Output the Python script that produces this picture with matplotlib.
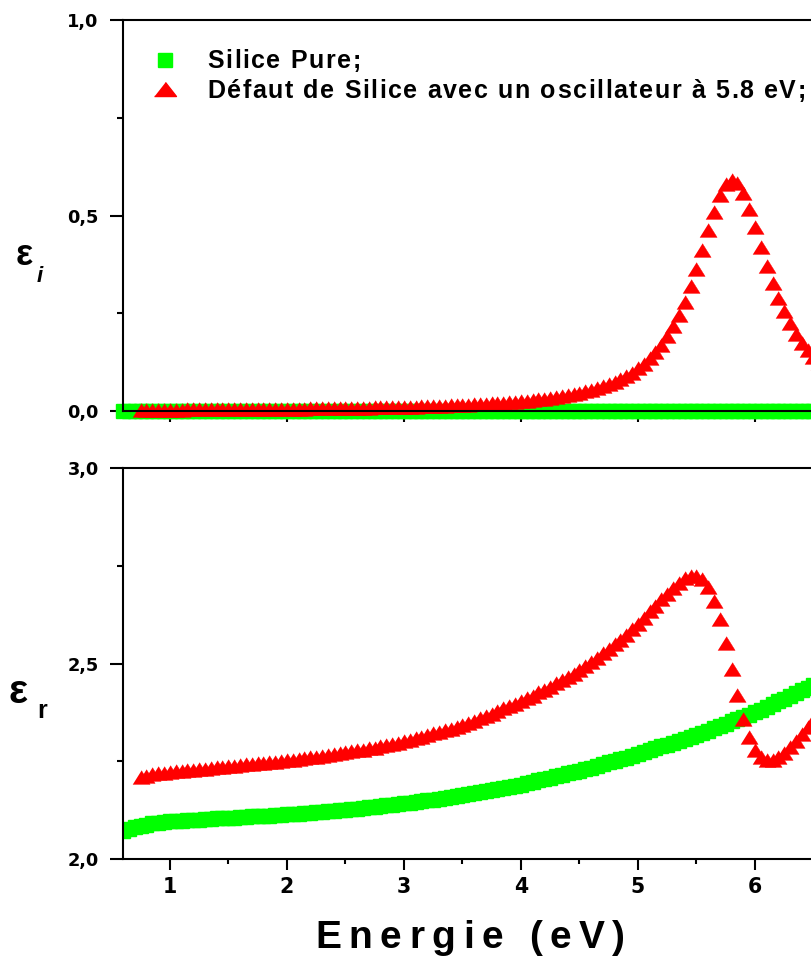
import matplotlib

matplotlib.use("Agg")
import matplotlib.pyplot as plt
import numpy as np
from matplotlib.font_manager import FontProperties, findfont
from matplotlib.ft2font import FT2Font
from matplotlib.lines import Line2D
from matplotlib.ticker import FixedLocator, NullFormatter

W, H, DPI = 812, 967, 100

# photon energy grids (eV), 0.05 eV sampling
energy_pure = np.round(np.arange(0.60, 6.551, 0.05), 2)
energy_defect = np.round(np.arange(0.75, 6.551, 0.05), 2)

# imaginary part, pure silica (flat on zero)
eps_i_pure = [0.0] * 120

# imaginary part, silica with the 5.8 eV defect oscillator
eps_i_defect = [
    0.0033, 0.0034, 0.0035, 0.0035, 0.0036, 0.0037, 0.0038, 0.0038, 0.0039, 0.0040,
    0.0041, 0.0042, 0.0043, 0.0044, 0.0045, 0.0046, 0.0047, 0.0048, 0.0049, 0.0050,
    0.0051, 0.0053, 0.0054, 0.0056, 0.0057, 0.0058, 0.0060, 0.0062, 0.0063, 0.0065,
    0.0067, 0.0069, 0.0071, 0.0073, 0.0075, 0.0077, 0.0080, 0.0082, 0.0085, 0.0087,
    0.0090, 0.0093, 0.0096, 0.0100, 0.0103, 0.0107, 0.0111, 0.0115, 0.0119, 0.0123,
    0.0128, 0.0133, 0.0139, 0.0144, 0.0150, 0.0157, 0.0164, 0.0171, 0.0179, 0.0187,
    0.0196, 0.0206, 0.0216, 0.0227, 0.0239, 0.0252, 0.0266, 0.0281, 0.0297, 0.0315,
    0.0334, 0.0356, 0.0379, 0.0405, 0.0433, 0.0465, 0.0499, 0.0538, 0.0581, 0.0629,
    0.0683, 0.0745, 0.0814, 0.0893, 0.0983, 0.1087, 0.1205, 0.1343, 0.1503, 0.169,
    0.1906, 0.2162, 0.2455, 0.280, 0.319, 0.364, 0.412, 0.463, 0.510, 0.553,
    0.580, 0.590, 0.582, 0.558, 0.517, 0.470, 0.420, 0.372, 0.328, 0.290,
    0.255, 0.225, 0.198, 0.175, 0.155, 0.138, 0.124,
]

# real part, pure silica
eps_r_pure = [
    2.072, 2.077, 2.081, 2.085, 2.088, 2.091, 2.093, 2.095, 2.096, 2.097,
    2.098, 2.099, 2.100, 2.101, 2.102, 2.103, 2.104, 2.104, 2.105, 2.106,
    2.107, 2.108, 2.109, 2.110, 2.110, 2.111, 2.112, 2.113, 2.114, 2.115,
    2.116, 2.117, 2.118, 2.120, 2.121, 2.122, 2.123, 2.125, 2.126, 2.127,
    2.129, 2.130, 2.132, 2.133, 2.135, 2.137, 2.139, 2.140, 2.142, 2.144,
    2.146, 2.148, 2.150, 2.152, 2.154, 2.156, 2.158, 2.161, 2.163, 2.166,
    2.168, 2.171, 2.174, 2.176, 2.179, 2.182, 2.185, 2.187, 2.190, 2.194,
    2.197, 2.201, 2.204, 2.208, 2.211, 2.215, 2.219, 2.222, 2.226, 2.230,
    2.234, 2.238, 2.243, 2.247, 2.251, 2.255, 2.259, 2.264, 2.268, 2.273,
    2.278, 2.283, 2.288, 2.292, 2.297, 2.302, 2.307, 2.312, 2.317, 2.323,
    2.328, 2.334, 2.340, 2.346, 2.352, 2.358, 2.363, 2.369, 2.375, 2.382,
    2.389, 2.396, 2.403, 2.410, 2.417, 2.424, 2.431, 2.438, 2.445, 2.452,
]

# real part, silica with the defect oscillator
eps_r_defect = [
    2.209, 2.213, 2.217, 2.219, 2.221, 2.222, 2.224, 2.225, 2.227, 2.228,
    2.230, 2.231, 2.233, 2.235, 2.235, 2.237, 2.238, 2.240, 2.242, 2.243,
    2.245, 2.246, 2.247, 2.249, 2.251, 2.252, 2.254, 2.256, 2.258, 2.260,
    2.262, 2.264, 2.266, 2.268, 2.271, 2.273, 2.275, 2.278, 2.280, 2.283,
    2.285, 2.289, 2.292, 2.295, 2.297, 2.301, 2.305, 2.309, 2.312, 2.317,
    2.321, 2.325, 2.329, 2.333, 2.338, 2.343, 2.349, 2.354, 2.360, 2.366,
    2.372, 2.378, 2.385, 2.392, 2.397, 2.404, 2.412, 2.418, 2.426, 2.433,
    2.441, 2.449, 2.457, 2.466, 2.473, 2.483, 2.493, 2.503, 2.514, 2.526,
    2.537, 2.549, 2.561, 2.574, 2.588, 2.602, 2.617, 2.633, 2.648, 2.664,
    2.678, 2.694, 2.707, 2.718, 2.724, 2.724, 2.716, 2.696, 2.661, 2.614,
    2.552, 2.486, 2.420, 2.359, 2.313, 2.279, 2.260, 2.252, 2.253, 2.260,
    2.272, 2.287, 2.303, 2.320, 2.338, 2.356, 2.373,
]

legend_labels = ["Silice Pure;", "Défaut de Silice avec un oscillateur à 5.8 eV;"]
xticks = [1, 2, 3, 4, 5, 6]
xtick_labels = ["1", "2", "3", "4", "5", "6"]
xticks_minor = [1.5, 2.5, 3.5, 4.5, 5.5, 6.5]
yticks_top = [0.0, 0.5, 1.0]
ytick_labels_top = ["0,0", "0,5", "1,0"]
yticks_bottom = [2.0, 2.5, 3.0]
ytick_labels_bottom = ["2,0", "2,5", "3,0"]

GREEN = "#00ff00"
RED = "#ff0000"
TRIANGLE = [(-1, -0.8), (1, -0.8), (0, 0.8)]
LEGEND_TRIANGLE = [(-1, -0.64), (1, -0.64), (0, 0.64)]
TICK_FONT = "DejaVu Sans"  # wide digits, closer to the stretched originals

plt.rcParams["font.family"] = ["Liberation Sans", "DejaVu Sans"]
plt.rcParams["font.weight"] = "bold"


def tracked_text(fig, x, y, text, size, track, ha="left"):
    """Write bold text with extra letter spacing.

    x, y are pixels from the top left corner, y sits on the baseline.
    """
    prop = FontProperties(family="Liberation Sans", weight="bold", size=size)
    font = FT2Font(findfont(prop), hinting_factor=1)
    font.set_size(size, DPI)
    advances = [font.load_char(ord(ch)).linearHoriAdvance / 65536 for ch in text]
    width = sum(advances) + track * (len(text) - 1)
    if ha == "right":
        x -= width
    elif ha == "center":
        x -= width / 2
    for ch, advance in zip(text, advances):
        fig.text(x / W, 1 - y / H, ch, fontproperties=prop, ha="left", va="baseline")
        x += advance + track


fig = plt.figure(figsize=(W / DPI, H / DPI), dpi=DPI)
# the axes run past the right edge of the picture, as in the original export
ax_top = fig.add_axes([123 / W, (H - 411) / H, 749 / W, 391 / H])
ax_bot = fig.add_axes([123 / W, (H - 859) / H, 749 / W, 391 / H])

ax_top.plot(energy_pure, eps_i_pure, ls="none", marker="s", ms=9.6,
            mfc=GREEN, mec=GREEN, clip_on=False)
ax_top.plot(energy_defect, eps_i_defect, ls="none", marker=TRIANGLE, ms=12.4,
            mfc=RED, mec=RED, mew=0.3, clip_on=False)
ax_bot.plot(energy_pure, eps_r_pure, ls="none", marker="s", ms=9.4,
            mfc=GREEN, mec=GREEN)
ax_bot.plot(energy_defect, eps_r_defect, ls="none", marker=TRIANGLE, ms=12.4,
            mfc=RED, mec=RED, mew=0.3)

ax_top.set_ylim(0, 1)
ax_bot.set_ylim(2, 3)
for ax, ticks, labels in [
    (ax_top, yticks_top, ytick_labels_top),
    (ax_bot, yticks_bottom, ytick_labels_bottom),
]:
    ax.set_xlim(0.6, 7.0)
    ax.set_yticks(ticks)
    ax.set_yticklabels(labels, family=TICK_FONT, fontweight="bold", fontsize=12.8)
    ax.yaxis.set_minor_locator(FixedLocator([ticks[0] + 0.25, ticks[0] + 0.75]))
    ax.set_xticks(xticks)
    ax.xaxis.set_minor_locator(FixedLocator(xticks_minor))
    ax.spines["right"].set_visible(False)
    for spine in ax.spines.values():
        spine.set_linewidth(1.5)
    ax.tick_params(axis="x", which="major", direction="out", length=8, width=1.5,
                   pad=5, top=False)
    ax.tick_params(axis="x", which="minor", direction="out", length=3.6, width=1.5,
                   top=False)
    ax.tick_params(axis="y", which="major", direction="out", length=9.5, width=1.5,
                   pad=8, right=False)
    ax.tick_params(axis="y", which="minor", direction="out", length=4.3, width=1.5,
                   right=False)
ax_top.xaxis.set_major_formatter(NullFormatter())
ax_bot.set_xticklabels(xtick_labels, family=TICK_FONT, fontweight="bold",
                       fontsize=14.8)

# axis titles
fig.text(16 / W, 1 - 265 / H, "ε", fontsize=26, fontweight="bold", va="baseline")
fig.text(37 / W, 1 - 282 / H, "i", fontsize=16, fontweight="bold", style="italic",
         va="baseline")
fig.text(9 / W, 1 - 703 / H, "ε", fontsize=29, fontweight="bold", va="baseline")
fig.text(37 / W, 1 - 718 / H, "r", fontsize=18, fontweight="bold", va="baseline")
tracked_text(fig, 470, 948, "Energie (eV)", 28, 7.5, ha="center")

# legend
fig.add_artist(Line2D([165 / W], [1 - 59.5 / H], marker="s", ms=10.5, mfc=GREEN,
                      mec=GREEN, transform=fig.transFigure))
fig.add_artist(Line2D([165 / W], [1 - 89 / H], marker=LEGEND_TRIANGLE, ms=15.8,
                      mfc=RED, mec=RED, transform=fig.transFigure))
tracked_text(fig, 207, 68, legend_labels[0], 18, 1.6)
tracked_text(fig, 207, 98, legend_labels[1], 18, 1.6)

fig.savefig("out.png", dpi=DPI)
